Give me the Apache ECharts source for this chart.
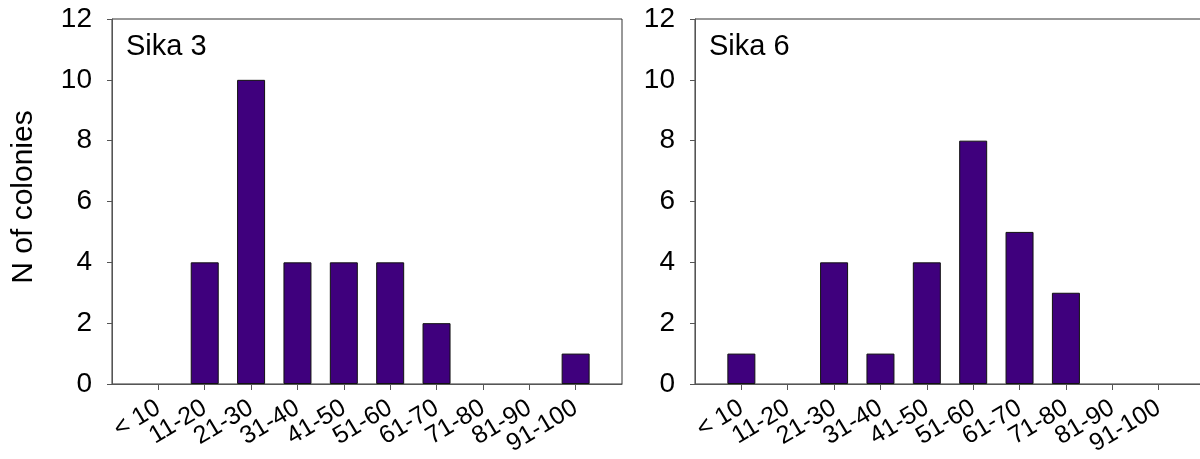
<!DOCTYPE html>
<html>
<head>
<meta charset="utf-8">
<script src="https://cdn.jsdelivr.net/npm/echarts@6/dist/echarts.min.js"></script>
<style>
  html, body { margin: 0; padding: 0; background: #fff; }
  #chart { width: 1200px; height: 459px; }
</style>
</head>
<body>
<div id="chart"></div>
<script>
// Colony size classes (shared by both panels)
const sizeClasses = ['< 10', '11-20', '21-30', '31-40', '41-50', '51-60', '61-70', '71-80', '81-90', '91-100'];
// Number of colonies per size class at each site
const sika3 = [0, 4, 10, 4, 4, 4, 2, 0, 0, 1];
const sika6 = [1, 0, 4, 1, 4, 8, 5, 3, 0, 0];
const panelTitles = ['Sika 3', 'Sika 6'];
const yTitle = 'N of colonies';

// Pad each side with an empty slot so the classes sit on ticks inside the frame
const padded = ['', ...sizeClasses, ''];
// Empty classes get no outline so nothing shows on the baseline
const padValues = arr => [null, ...arr.map(v => v === 0
  ? { value: 0, itemStyle: { borderWidth: 0, opacity: 0 } }
  : v), null];

const FONT = '"Liberation Sans", Arial, sans-serif';
const AXIS_COLOR = '#555';
const BAR_COLOR = '#3f007d';

function xAxisFor(gridIndex) {
  return {
    type: 'category',
    gridIndex,
    data: padded,
    boundaryGap: false,
    axisLine: { show: true, lineStyle: { color: AXIS_COLOR, width: 1 } },
    axisTick: {
      show: true, inside: false, length: 6,
      interval: (i, v) => v !== '',
      lineStyle: { color: AXIS_COLOR }
    },
    axisLabel: {
      interval: 0,
      hideOverlap: false,
      rotate: 31, margin: 22,
      fontFamily: FONT, fontSize: 25, color: '#000'
    },
    splitLine: { show: false }
  };
}

function yAxisFor(gridIndex) {
  return {
    type: 'value',
    gridIndex,
    min: 0, max: 12, interval: 2,
    axisLine: { show: true, lineStyle: { color: AXIS_COLOR, width: 1 } },
    axisTick: { show: true, inside: false, length: 5, lineStyle: { color: AXIS_COLOR } },
    axisLabel: { margin: 20, fontFamily: FONT, fontSize: 28, color: '#000' },
    splitLine: { show: false }
  };
}

function barSeries(idx, values) {
  return {
    type: 'bar',
    xAxisIndex: idx, yAxisIndex: idx,
    data: padValues(values),
    barWidth: 28,
    itemStyle: { color: BAR_COLOR, borderColor: '#111', borderWidth: 1 },
    silent: true
  };
}

const gridBase = {
  top: 19, height: 365, show: true,
  borderColor: '#333', borderWidth: 1, backgroundColor: 'transparent',
  containLabel: false, outerBoundsMode: 'none'
};

const chart = echarts.init(document.getElementById('chart'), null, { renderer: 'canvas' });
chart.setOption({
  animation: false,
  backgroundColor: '#fff',
  grid: [
    Object.assign({ left: 112, width: 510 }, gridBase),
    Object.assign({ left: 695, width: 510 }, gridBase)
  ],
  xAxis: [xAxisFor(0), xAxisFor(1)],
  yAxis: [yAxisFor(0), yAxisFor(1)],
  series: [barSeries(0, sika3), barSeries(1, sika6)],
  graphic: [
    { type: 'text', left: 126, top: 32, style: { text: panelTitles[0], font: '29px ' + FONT, fill: '#000' } },
    { type: 'text', left: 709, top: 32, style: { text: panelTitles[1], font: '29px ' + FONT, fill: '#000' } },
    {
      type: 'text', x: 24, y: 197, rotation: Math.PI / 2,
      style: { text: yTitle, font: '30px ' + FONT, fill: '#000', align: 'center', verticalAlign: 'middle' }
    }
  ]
});
</script>
</body>
</html>
